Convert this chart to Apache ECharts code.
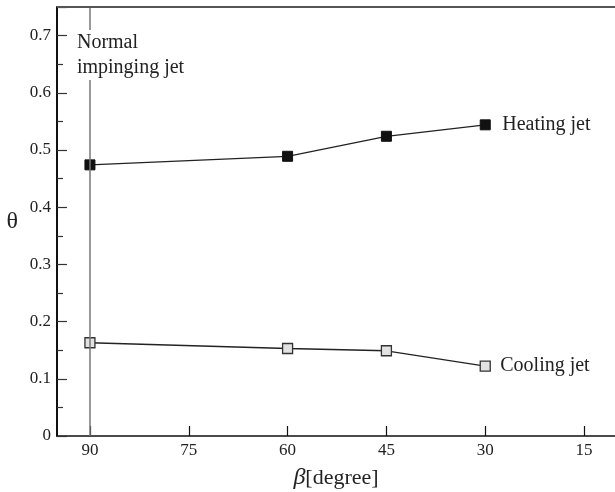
<!DOCTYPE html>
<html>
<head>
<meta charset="utf-8">
<script src="https://cdn.jsdelivr.net/npm/echarts@6/dist/echarts.min.js"></script>
<style>
  html, body { margin: 0; padding: 0; background: #fff; }
  #chart { width: 615px; height: 492px; }
</style>
</head>
<body>
<div id="chart"></div>
<script>
// angles in degree
const beta = [90, 60, 45, 30]
const heating = [0.474, 0.489, 0.524, 0.544]
const cooling = [0.163, 0.153, 0.149, 0.122]
const xTicks = [90, 75, 60, 45, 30, 15]
const yTicks = [0, 0.1, 0.2, 0.3, 0.4, 0.5, 0.6, 0.7]

const serif = '"Liberation Serif", "DejaVu Serif", serif'

const chart = echarts.init(document.getElementById('chart'))

function pairs(ys) {
  return beta.map((b, i) => [b, ys[i]])
}

// label just right of the last point of a series
function endTag(ys, text, dist) {
  const last = beta.length - 1
  return {
    silent: true,
    symbol: 'rect',
    symbolSize: 0,
    data: [{ coord: [beta[last], ys[last]] }],
    label: {
      show: true,
      position: 'right',
      distance: dist,
      formatter: text,
      fontFamily: serif,
      fontSize: 20,
      color: '#222'
    }
  }
}

chart.setOption({
  animation: false,
  grid: { left: 57, top: 7, right: -2, bottom: 56, outerBoundsMode: 'none', containLabel: false },
  xAxis: {
    type: 'value',
    inverse: true,
    min: 10,
    max: 95,
    name: '{b|β}{t|[degree]}',
    nameLocation: 'middle',
    nameGap: 30,
    nameTextStyle: {
      padding: [0, 2, 0, 0],
      rich: {
        b: { fontFamily: serif, fontSize: 24, fontStyle: 'italic', color: '#222' },
        t: { fontFamily: serif, fontSize: 22, color: '#222' }
      }
    },
    axisLine: { show: true, onZero: false, lineStyle: { color: '#111', width: 1.5 } },
    axisTick: { show: true, inside: true, length: 10, customValues: xTicks, lineStyle: { color: '#111', width: 1.2 } },
    axisLabel: { customValues: xTicks, fontFamily: serif, fontSize: 17, color: '#222', margin: 6 },
    splitLine: { show: false }
  },
  yAxis: {
    type: 'value',
    min: 0,
    max: 0.75,
    interval: 0.1,
    name: 'θ',
    nameLocation: 'middle',
    nameGap: 39,
    nameRotate: 0,
    nameTextStyle: { fontFamily: serif, fontSize: 24, color: '#222' },
    axisLine: { show: true, lineStyle: { color: '#111', width: 2 } },
    axisTick: { show: true, inside: true, length: 10, lineStyle: { color: '#333', width: 1.2 } },
    minorTick: { show: true, splitNumber: 2, length: 6, lineStyle: { color: '#333', width: 1.2 } },
    axisLabel: { customValues: yTicks, fontFamily: serif, fontSize: 17, color: '#222', margin: 6 },
    splitLine: { show: false }
  },
  graphic: [{
    // top frame line
    type: 'line',
    shape: { x1: 57, y1: 7, x2: 615, y2: 7 },
    style: { stroke: '#555', lineWidth: 2 },
    z: 10
  }],
  series: [{
    name: 'Heating jet',
    type: 'line',
    data: pairs(heating),
    symbol: 'rect',
    symbolSize: 10,
    itemStyle: { color: '#111', borderColor: '#111', borderWidth: 1 },
    lineStyle: { color: '#222', width: 1.3 },
    markPoint: endTag(heating, 'Heating jet', 17),
    markLine: {
      silent: true,
      symbol: 'none',
      label: { show: false },
      lineStyle: { color: '#777', width: 1.5, type: 'solid' },
      data: [{ xAxis: 90 }]
    },
    z: 3
  }, {
    name: 'Cooling jet',
    type: 'line',
    data: pairs(cooling),
    symbol: 'rect',
    symbolSize: 10,
    itemStyle: { color: '#e2e2e2', borderColor: '#333', borderWidth: 1.3 },
    lineStyle: { color: '#222', width: 1.3 },
    markPoint: endTag(cooling, 'Cooling jet', 15),
    z: 3
  }, {
    // annotation for the normal jet line
    name: 'normal',
    type: 'scatter',
    data: [],
    markPoint: {
      silent: true,
      symbol: 'rect',
      symbolSize: 0,
      data: [{ coord: [90, 0.666] }],
      label: {
        show: true,
        position: 'right',
        distance: 5,
        offset: [-20, 0],
        formatter: 'Normal\nimpinging jet',
        align: 'left',
        fontFamily: serif,
        fontSize: 20,
        lineHeight: 25,
        color: '#222',
        backgroundColor: '#fff',
        padding: [0, 2, 0, 2]
      }
    },
    z: 5
  }]
})
</script>
</body>
</html>
